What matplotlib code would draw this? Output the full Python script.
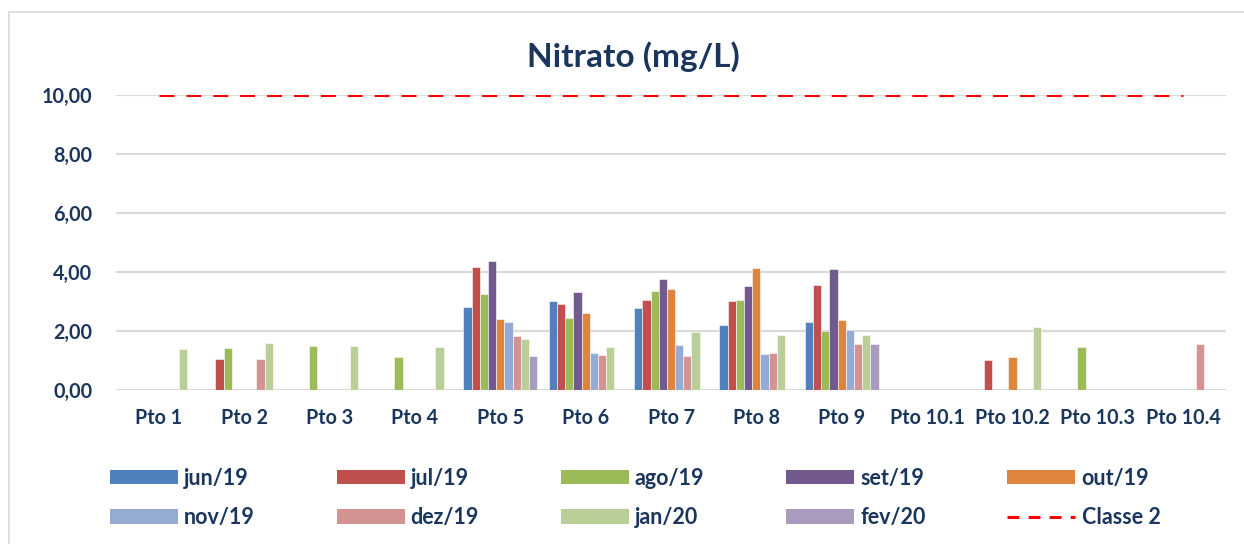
import matplotlib
matplotlib.use("Agg")
import matplotlib.pyplot as plt
import numpy as np
from matplotlib.patches import Rectangle, Patch
from matplotlib.lines import Line2D

categories = ["Pto 1", "Pto 2", "Pto 3", "Pto 4", "Pto 5", "Pto 6", "Pto 7",
              "Pto 8", "Pto 9", "Pto 10.1", "Pto 10.2", "Pto 10.3", "Pto 10.4"]
series_names = ["jun/19", "jul/19", "ago/19", "set/19", "out/19",
                "nov/19", "dez/19", "jan/20", "fev/20"]
nan = np.nan
jun19 = [nan, nan, nan, nan, 2.81, 3.02, 2.78, 2.20, 2.32, nan, nan, nan, nan]
jul19 = [nan, 1.04, nan, nan, 4.17, 2.92, 3.06, 3.03, 3.57, nan, 1.03, nan, nan]
ago19 = [nan, 1.43, 1.48, 1.13, 3.24, 2.44, 3.34, 3.05, 2.01, nan, nan, 1.47, nan]
set19 = [nan, nan, nan, nan, 4.37, 3.32, 3.77, 3.53, 4.10, nan, nan, nan, nan]
out19 = [nan, nan, nan, nan, 2.42, 2.60, 3.43, 4.14, 2.37, nan, 1.12, nan, nan]
nov19 = [nan, nan, nan, nan, 2.32, 1.26, 1.52, 1.21, 2.02, nan, nan, nan, nan]
dez19 = [nan, 1.05, nan, nan, 1.84, 1.20, 1.14, 1.26, 1.56, nan, nan, nan, 1.56]
jan20 = [1.40, 1.58, 1.49, 1.46, 1.74, 1.47, 1.97, 1.85, 1.87, nan, 2.15, nan, nan]
fev20 = [nan, nan, nan, nan, 1.16, nan, nan, nan, 1.56, nan, nan, nan, nan]
series_values = [jun19, jul19, ago19, set19, out19, nov19, dez19, jan20, fev20]
classe2_name = "Classe 2"
classe2_value = 10.0
yticks = [0, 2, 4, 6, 8, 10]
ytick_labels = ["0,00", "2,00", "4,00", "6,00", "8,00", "10,00"]
title = "Nitrato (mg/L)"

colors = ["#4F81BD", "#C0504D", "#9BBB59", "#725A8E", "#DD843E",
          "#95ABD4", "#D39392", "#B9CF98", "#A99BBE"]
text_color = "#1B365D"
grid_color = "#D9D9D9"
font = "Lato"

W, H = 1244, 544
fig = plt.figure(figsize=(W / 100, H / 100), dpi=100)
fig.patch.set_facecolor("white")
# chart border
fig.add_artist(Rectangle((8.5 / W, -0.01), 1.02, 1 - 11.5 / H + 0.01,
                         transform=fig.transFigure, fill=False,
                         edgecolor=grid_color, linewidth=1.2))

left, right, top, bottom = 116, 1226, 95, 390
ax = fig.add_axes([left / W, 1 - bottom / H, (right - left) / W, (bottom - top) / H])

x = np.arange(len(categories))
n = len(series_values)
bw = 0.096
for i, (vals, c) in enumerate(zip(series_values, colors)):
    offs = (i - (n - 1) / 2) * bw
    ax.bar(x + offs, vals, width=bw, color=c, edgecolor="white",
           linewidth=0.4, zorder=3)

ax.hlines(classe2_value, x[0], x[-1], colors="#FF0000", linewidth=2.2,
          linestyles=(0, (4.9, 3.9)), zorder=4)

ax.set_xlim(-0.5, len(categories) - 0.5)
ax.set_ylim(0, 10)
ax.set_yticks(yticks)
ax.set_yticklabels(ytick_labels)
ax.set_xticks(x)
ax.set_xticklabels(categories)
for s in ax.spines.values():
    s.set_visible(False)
ax.grid(axis="y", color=grid_color, linewidth=1.5, zorder=0)
ax.set_axisbelow(True)
ax.tick_params(axis="both", length=0, labelsize=14.2, labelcolor=text_color)
ax.tick_params(axis="y", pad=17)
ax.tick_params(axis="x", pad=13)
for lab in ax.get_xticklabels() + ax.get_yticklabels():
    lab.set_fontfamily(font)
    lab.set_fontweight("bold")

fig.text(633 / W, 1 - 57 / H, title, ha="center", va="center",
         fontsize=24, fontweight="bold", color=text_color, fontfamily=font)

handles = [Patch(facecolor=c, edgecolor="none") for c in colors]
handles.append(Line2D([0], [0], color="#FF0000", linewidth=2.2,
                      linestyle=(0, (3.9, 3.0))))
labels = series_names + [classe2_name]
order = [0, 5, 1, 6, 2, 7, 3, 8, 4, 9]
leg = fig.legend([handles[k] for k in order], [labels[k] for k in order],
                 ncol=5, loc="center left", bbox_to_anchor=(90.5 / W, 1 - 498 / H),
                 frameon=False, handlelength=3.16, handleheight=0.65,
                 handletextpad=0.28, columnspacing=3.8, labelspacing=0.85,
                 prop={"family": font, "weight": "bold", "size": 15.5})
for t in leg.get_texts():
    t.set_color(text_color)

fig.savefig("out.png", dpi=100, facecolor="white")
